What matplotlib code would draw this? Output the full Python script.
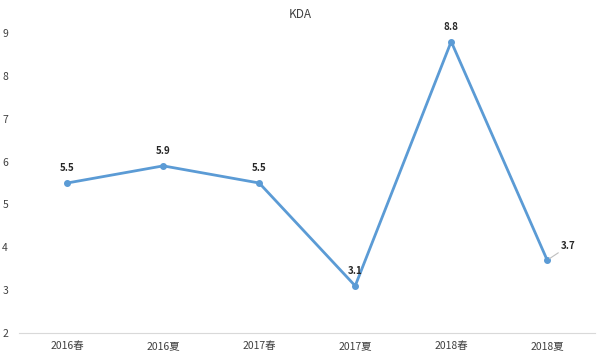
import matplotlib.pyplot as plt

plt.rcParams['font.family'] = ['Noto Sans CJK SC', 'DejaVu Sans']

seasons = ['2016春', '2016夏', '2017春', '2017夏', '2018春', '2018夏']
kda = [5.5, 5.9, 5.5, 3.1, 8.8, 3.7]
yticks = [2, 3, 4, 5, 6, 7, 8, 9]

fig = plt.figure(figsize=(6, 3.58), dpi=100)
ax = fig.add_axes([0.032, 0.0698, 0.96, 0.838])

x = list(range(len(seasons)))
ax.plot(x, kda, color='#5B9BD5', linewidth=2, marker='o', markersize=4)

for i, v in enumerate(kda):
    if i == len(kda) - 1:
        ax.annotate(f'{v}', (i, v), xytext=(10, 8), textcoords='offset points',
                    fontsize=7, fontweight='bold', color='#262626',
                    arrowprops=dict(arrowstyle='-', color='#BFBFBF', lw=0.8,
                                    shrinkA=0, shrinkB=2))
    else:
        ax.annotate(f'{v}', (i, v), xytext=(0, 7), textcoords='offset points',
                    ha='center', va='bottom', fontsize=7, fontweight='bold',
                    color='#262626')

ax.set_xlim(-0.5, len(seasons) - 0.5)
ax.set_ylim(2, 9)
ax.set_xticks(x)
ax.set_xticklabels(seasons)
ax.set_yticks(yticks)
ax.tick_params(axis='both', length=0, labelsize=7.5, colors='#404040')
ax.tick_params(axis='x', pad=6)
ax.tick_params(axis='y', pad=8)
for s in ['top', 'right', 'left']:
    ax.spines[s].set_visible(False)
ax.spines['bottom'].set_color('#D9D9D9')

fig.text(0.5, 0.96, 'KDA', ha='center', va='center', fontsize=8.5, color='#404040')

fig.savefig('out.png', dpi=100)
